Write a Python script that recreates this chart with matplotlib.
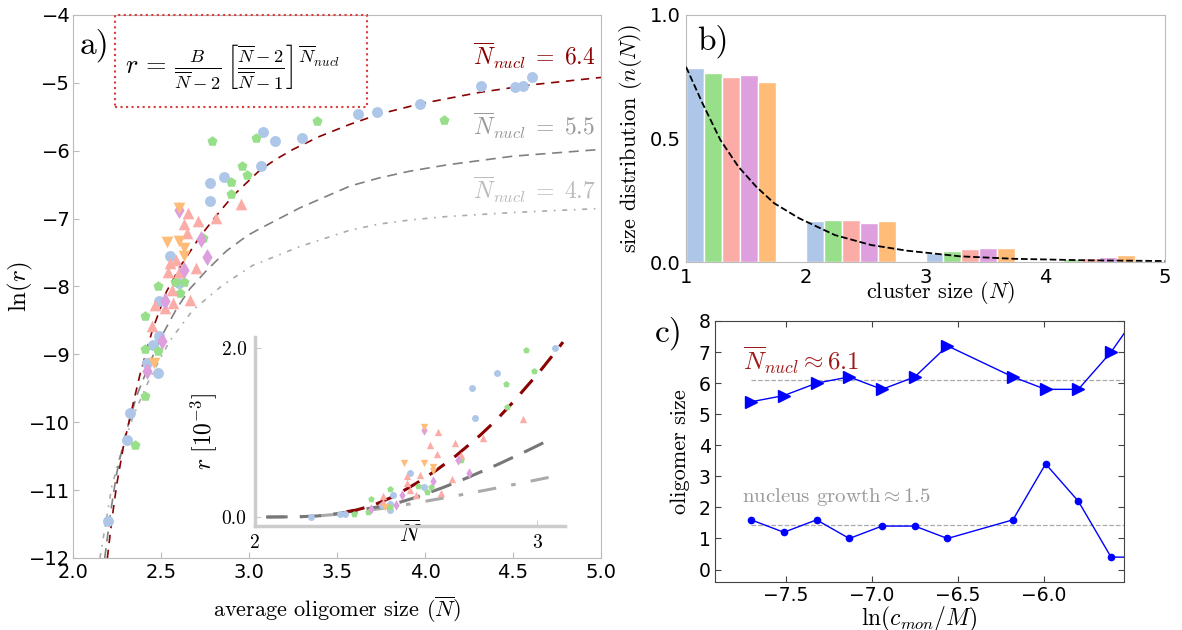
import matplotlib
matplotlib.use("Agg")
import matplotlib.pyplot as plt
from matplotlib.patches import Rectangle

plt.rcParams['mathtext.fontset'] = 'cm'
plt.rcParams['font.family'] = 'DejaVu Sans'
SERIF = 'cmr10'

# ---- panel a: ln(r) vs average oligomer size ----
blue_n = [3.62, 3.725, 3.97, 4.32, 4.51, 4.555, 4.61, 3.08, 3.15, 3.30, 3.066, 2.86, 2.78, 2.78,
          2.55, 2.60, 2.49, 2.49, 2.456, 2.42, 2.485, 2.324, 2.305, 2.20]
blue_lnr = [-5.46, -5.43, -5.31, -5.05, -5.06, -5.04, -4.92, -5.72, -5.86, -5.81, -6.22, -6.38, -6.48, -6.74,
            -7.545, -7.95, -8.22, -8.73, -8.86, -9.13, -9.28, -9.87, -10.26, -11.45]
green_n = [4.11, 3.385, 2.79, 3.04, 2.96, 2.99, 2.90, 2.90, 2.74, 2.48, 2.58, 2.63, 2.61, 2.41, 2.41,
           2.485, 2.41, 2.35]
green_lnr = [-5.55, -5.56, -5.85, -5.81, -6.22, -6.36, -6.455, -6.64, -7.29, -8.0, -7.93, -7.94, -8.10,
             -8.44, -8.92, -8.95, -9.61, -10.34]
salmon_n = [2.955, 2.815, 2.71, 2.655, 2.63, 2.65, 2.70, 2.585, 2.55, 2.54, 2.60, 2.56, 2.665, 2.57,
            2.466, 2.52, 2.45]
salmon_lnr = [-6.78, -6.985, -7.04, -6.91, -7.08, -7.21, -7.73, -7.61, -7.66, -7.78, -7.78, -8.05, -8.20,
              -8.25, -8.27, -8.32, -8.58]
purple_n = [2.60, 2.725, 2.76, 2.63, 2.52, 2.505, 2.42]
purple_lnr = [-6.87, -7.30, -7.57, -7.76, -8.22, -8.80, -9.24]
orange_n = [2.60, 2.535, 2.60, 2.63, 2.63, 2.46]
orange_lnr = [-6.85, -7.35, -7.33, -7.44, -7.55, -9.12]

fit64_n = [2.195, 2.22, 2.248, 2.286, 2.333, 2.38, 2.45, 2.53, 2.61, 2.72, 2.81, 2.91, 3.06, 3.15,
           3.25, 3.40, 3.574, 3.74, 3.97, 4.31, 4.60, 5.0]
fit64_lnr = [-12.0, -11.45, -10.92, -10.36, -9.82, -9.30, -8.65, -8.08, -7.70, -7.27, -6.97, -6.66, -6.29,
             -6.13, -5.98, -5.79, -5.61, -5.46, -5.31, -5.14, -5.03, -4.92]
fit55_n = [2.18, 2.215, 2.248, 2.295, 2.36, 2.44, 2.51, 2.59, 2.665, 2.76, 2.87, 2.99, 3.06, 3.29,
           3.574, 3.74, 3.915, 4.12, 4.50, 5.0]
fit55_lnr = [-12.0, -11.3, -10.75, -10.21, -9.62, -9.10, -8.70, -8.32, -8.03, -7.76, -7.48, -7.25, -7.15,
             -6.84, -6.52, -6.40, -6.30, -6.21, -6.08, -5.98]
fit47_n = [2.153, 2.22, 2.267, 2.34, 2.44, 2.55, 2.68, 2.85, 3.02, 3.29, 3.574, 3.74, 3.915, 4.12, 4.5, 5.0]
fit47_lnr = [-12.0, -10.95, -10.50, -9.92, -9.33, -8.80, -8.35, -7.98, -7.69, -7.41, -7.17, -7.08, -7.02,
             -6.97, -6.91, -6.85]

# ---- inset: r [1e-3] vs N ----
in_blue_n = [2.20, 2.30, 2.32, 2.45, 2.49, 2.48, 2.55, 2.60, 2.48, 2.77, 2.78, 2.86, 3.065]
in_blue_r = [0.0, 0.03, 0.04, 0.14, 0.26, 0.08, 0.52, 0.35, 0.16, 1.53, 1.175, 1.70, 2.0]
in_green_n = [2.35, 2.41, 2.40, 2.48, 2.48, 2.58, 2.61, 2.625, 2.73, 2.89, 2.895, 2.96, 2.99]
in_green_r = [0.03, 0.21, 0.06, 0.33, 0.12, 0.37, 0.30, 0.36, 0.675, 1.57, 1.30, 1.98, 1.73]
in_salmon_n = [2.455, 2.455, 2.54, 2.54, 2.55, 2.57, 2.585, 2.62, 2.65, 2.647, 2.66, 2.70, 2.71, 2.73,
               2.81, 2.95]
in_salmon_r = [0.25, 0.18, 0.48, 0.40, 0.32, 0.26, 0.50, 0.85, 1.01, 0.745, 0.28, 0.45, 0.88, 0.73,
               0.93, 1.16]
in_purple_n = [2.41, 2.50, 2.52, 2.60, 2.63, 2.72, 2.76]
in_purple_r = [0.10, 0.14, 0.26, 1.03, 0.43, 0.675, 0.52]
in_orange_n = [2.46, 2.53, 2.60, 2.60, 2.63, 2.63]
in_orange_r = [0.115, 0.64, 1.06, 0.64, 0.595, 0.54]

in_fit64_n = [2.325, 2.36, 2.42, 2.49, 2.573, 2.644, 2.715, 2.80, 2.857, 2.916, 3.01, 3.058, 3.093]
in_fit64_r = [0.063, 0.083, 0.14, 0.24, 0.40, 0.555, 0.73, 0.97, 1.15, 1.36, 1.72, 1.92, 2.07]
in_fit55_n = [2.04, 2.15, 2.22, 2.30, 2.37, 2.49, 2.573, 2.668, 2.75, 2.857, 2.963, 3.058]
in_fit55_r = [0.0, 0.003, 0.012, 0.044, 0.083, 0.15, 0.235, 0.35, 0.46, 0.615, 0.78, 0.935]
in_fit47_n = [2.04, 2.15, 2.22, 2.30, 2.37, 2.479, 2.585, 2.703, 2.845, 2.934, 3.052]
in_fit47_r = [0.0, 0.003, 0.012, 0.035, 0.065, 0.115, 0.175, 0.245, 0.335, 0.395, 0.475]

# ---- panel b: size distribution ----
group_left = [1, 2, 3, 4]
dist_blue = [0.784, 0.166, 0.035, 0.005]
dist_green = [0.767, 0.170, 0.0445, 0.012]
dist_salmon = [0.748, 0.170, 0.051, 0.017]
dist_purple = [0.756, 0.158, 0.055, 0.020]
dist_orange = [0.729, 0.167, 0.057, 0.028]
dist_fit_x = [1.0, 1.137, 1.287, 1.437, 1.586, 1.736, 1.945, 2.244, 2.544, 2.843, 3.29, 3.74, 4.34, 5.0]
dist_fit_y = [0.79, 0.643, 0.494, 0.386, 0.305, 0.238, 0.177, 0.109, 0.069, 0.046, 0.023, 0.013, 0.007, 0.004]

# ---- panel c: oligomer size vs ln(c_mon/M) ----
conc = [-7.70, -7.51, -7.32, -7.13, -6.94, -6.75, -6.56, -6.18, -5.99, -5.80, -5.61, -5.42]
nucleus_size = [5.4, 5.6, 6.0, 6.2, 5.8, 6.2, 7.2, 6.2, 5.8, 5.8, 7.0, 8.5]
growth_size = [1.6, 1.2, 1.6, 1.0, 1.4, 1.4, 1.0, 1.6, 3.4, 2.2, 0.4, 0.4]
nucleus_mean = 6.1
growth_mean = 1.45

c_blue, c_green, c_salmon, c_purple, c_orange = '#aec7e8', '#98df8a', '#fcaca6', '#dd9fdd', '#ffbb78'
dark_red = '#8b0000'
spine_gray = '#bbbbbb'

fig = plt.figure(figsize=(11.82, 6.3), dpi=100)

# ================= panel a =================
ax = fig.add_axes([0.0618, 0.1143, 0.4467, 0.8619])
ax.plot(fit47_n, fit47_lnr, color='#aaaaaa', lw=1.2, dashes=(3, 4, 1, 4))
ax.plot(fit55_n, fit55_lnr, color='#808080', lw=1.2, dashes=(6, 4))
ax.plot(fit64_n, fit64_lnr, color=dark_red, lw=1.2, dashes=(5, 4))
ax.scatter(blue_n, blue_lnr, marker='o', s=62, color=c_blue, lw=0, zorder=3)
ax.scatter(green_n, green_lnr, marker='p', s=58, color=c_green, lw=0, zorder=3)
ax.scatter(salmon_n, salmon_lnr, marker='^', s=70, color=c_salmon, lw=0, zorder=3)
ax.scatter(purple_n, purple_lnr, marker='d', s=75, color=c_purple, lw=0, zorder=3)
ax.scatter(orange_n, orange_lnr, marker='v', s=70, color=c_orange, lw=0, zorder=3)
ax.set_xlim(2, 5)
ax.set_ylim(-12, -4)
ax.set_xticks([2.0, 2.5, 3.0, 3.5, 4.0, 4.5, 5.0])
ax.set_xticklabels(['2.0', '2.5', '3.0', '3.5', '4.0', '4.5', '5.0'])
ax.set_yticks(range(-12, -3))
ax.tick_params(labelsize=14, direction='in', length=4, color=spine_gray)
ax.tick_params(axis='y', pad=2)
for s in ax.spines.values():
    s.set_color(spine_gray)
ax.set_xlabel(r'average oligomer size ($\overline{N}$)', fontsize=16, family=SERIF, labelpad=9)
ax.set_ylabel(r'$\ln(r)$', fontsize=18)
ax.yaxis.set_label_coords(-0.072, 0.5)

ax.add_patch(Rectangle((0.0795, 0.8306), 0.477, 0.1694, transform=ax.transAxes, fill=False,
                       edgecolor='#e03a3a', lw=1.5, ls=':', clip_on=False, zorder=5))
ax.text(0.098, 0.905,
        r'$r\,=\,\frac{B}{\overline{N}-2}\,\left[\frac{\overline{N}-2}{\overline{N}-1}\right]^{\overline{N}_{nucl}}$',
        transform=ax.transAxes, fontsize=19, va='center')
ax.text(0.013, 0.945, 'a)', transform=ax.transAxes, fontsize=24, family=SERIF, va='center')
ax.text(0.758, 0.926, r'$\overline{N}_{nucl}\;=\;6.4$', transform=ax.transAxes, fontsize=17,
        color=dark_red, va='center')
ax.text(0.758, 0.797, r'$\overline{N}_{nucl}\;=\;5.5$', transform=ax.transAxes, fontsize=17,
        color='#999999', va='center')
ax.text(0.758, 0.678, r'$\overline{N}_{nucl}\;=\;4.7$', transform=ax.transAxes, fontsize=17,
        color='#bbbbbb', va='center')

# ================= inset =================
axi = fig.add_axes([0.2157, 0.1651, 0.2623, 0.30])
axi.plot(in_fit47_n, in_fit47_r, color='#aaaaaa', lw=2.2, dashes=(6, 5, 1.5, 5))
axi.plot(in_fit55_n, in_fit55_r, color='#777777', lw=2.2, dashes=(7, 4))
axi.plot(in_fit64_n, in_fit64_r, color=dark_red, lw=2.2, dashes=(6, 4))
axi.scatter(in_blue_n, in_blue_r, marker='o', s=25, color=c_blue, lw=0, zorder=3)
axi.scatter(in_green_n, in_green_r, marker='p', s=25, color=c_green, lw=0, zorder=3)
axi.scatter(in_salmon_n, in_salmon_r, marker='^', s=28, color=c_salmon, lw=0, zorder=3)
axi.scatter(in_purple_n, in_purple_r, marker='d', s=28, color=c_purple, lw=0, zorder=3)
axi.scatter(in_orange_n, in_orange_r, marker='v', s=28, color=c_orange, lw=0, zorder=3)
axi.set_xlim(2.0, 3.1)
axi.set_ylim(-0.106, 2.13)
axi.set_xticks([2, 3])
axi.set_xticklabels(['2', '3'], family=SERIF, fontsize=14)
axi.set_yticks([0, 2])
axi.set_yticklabels(['0.0', '2.0'], family=SERIF, fontsize=14)
axi.tick_params(direction='in', length=4, color='#cccccc', pad=6)
axi.spines['top'].set_visible(False)
axi.spines['right'].set_visible(False)
for k in ['left', 'bottom']:
    axi.spines[k].set_color('#cccccc')
    axi.spines[k].set_linewidth(2.5)
axi.set_xlabel(r'$\overline{N}$', fontsize=17, labelpad=-22)
axi.set_ylabel(r'$r\ [10^{-3}]$', fontsize=17, labelpad=2)

# ================= panel b =================
axb = fig.add_axes([0.5804, 0.5841, 0.4052, 0.3921])
series_b = [dist_blue, dist_green, dist_salmon, dist_purple, dist_orange]
colors_b = [c_blue, c_green, c_salmon, c_purple, c_orange]
for i, (vals, col) in enumerate(zip(series_b, colors_b)):
    xs = [g + 0.075 + 0.15 * i for g in group_left]
    axb.bar(xs, vals, width=0.15, color=col, edgecolor='white', lw=1)
axb.plot(dist_fit_x, dist_fit_y, color='black', ls='--', lw=1.3, zorder=4)
axb.set_xlim(1, 5)
axb.set_ylim(0, 1)
axb.set_xticks([1, 2, 3, 4, 5])
axb.set_yticks([0, 0.5, 1.0])
axb.set_yticklabels(['0.0', '0.5', '1.0'])
axb.tick_params(labelsize=14, length=0, pad=4)
for s in axb.spines.values():
    s.set_color(spine_gray)
axb.set_xlabel(r'cluster size $(N)$', fontsize=16, family=SERIF)
axb.xaxis.set_label_coords(0.53, -0.07)
axb.set_ylabel(r'size distribution $(n(N))$', fontsize=16, family=SERIF, labelpad=4)
axb.text(0.023, 0.895, 'b)', transform=axb.transAxes, fontsize=24, family=SERIF, va='center')

# ================= panel c =================
axc = fig.add_axes([0.6049, 0.0762, 0.346, 0.4143])
axc.plot([conc[0], conc[-1]], [nucleus_mean, nucleus_mean], color='#aaaaaa', ls='--', lw=0.9)
axc.plot([conc[0], conc[-1]], [growth_mean, growth_mean], color='#aaaaaa', ls='--', lw=0.9)
axc.plot(conc, nucleus_size, color='blue', lw=1, marker='>', ms=8, mec='blue')
axc.plot(conc, growth_size, color='blue', lw=1, marker='o', ms=4.5, mec='blue')
axc.set_xlim(-7.91, -5.535)
axc.set_ylim(-0.4, 8)
axc.set_xticks([-7.5, -7.0, -6.5, -6.0])
axc.set_xticklabels(['\u22127.5', '\u22127.0', '\u22126.5', '\u22126.0'])
axc.set_yticks(range(0, 9))
axc.tick_params(labelsize=13.5, direction='in', length=4, top=True, right=True, color='#444444', pad=3)
for s in axc.spines.values():
    s.set_color('#444444')
axc.set_xlabel(r'$\ln(c_{mon}/M)$', fontsize=17, labelpad=0)
axc.set_ylabel('oligomer size', fontsize=16, family=SERIF, labelpad=6)
axc.text(-7.745, 6.75, r'$\overline{N}_{nucl}\approx 6.1$', fontsize=18, color='#a01818', va='center')
axc.text(-7.755, 2.35, r'nucleus growth$\approx 1.5$', fontsize=15, color='#999999', va='center',
         family=SERIF)
axc.text(-8.26, 7.6, 'c)', fontsize=24, family=SERIF, va='center')

fig.savefig('out.png', dpi=100)
